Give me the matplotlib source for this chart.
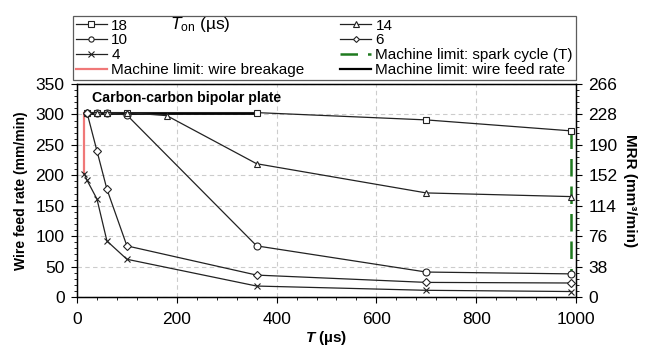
import matplotlib

matplotlib.use("Agg")

import matplotlib.pyplot as plt
from matplotlib.lines import Line2D
from matplotlib.ticker import MultipleLocator
import numpy as np

plt.rcParams["font.family"] = ["Liberation Sans", "DejaVu Sans"]
plt.rcParams["mathtext.fontset"] = "custom"
plt.rcParams["mathtext.rm"] = "Liberation Sans"
plt.rcParams["mathtext.it"] = "Liberation Sans:italic"
plt.rcParams["mathtext.bf"] = "Liberation Sans:italic:bold"

# pulse on-time series (T_on in us): cycle time T (us) vs wire feed rate (mm/min)
T_18 = [20, 40, 60, 100, 360, 700, 990]
WFR_18 = [303, 303, 303, 303, 303, 291, 273]
T_14 = [20, 40, 60, 100, 180, 360, 700, 990]
WFR_14 = [303, 303, 303, 303, 298, 219, 171, 165]
T_10 = [20, 40, 60, 100, 360, 700, 990]
WFR_10 = [303, 303, 303, 299, 84, 41, 38]
T_6 = [20, 40, 60, 100, 360, 700, 990]
WFR_6 = [303, 240, 177, 84, 36, 24, 23]
T_4 = [15, 20, 40, 60, 100, 360, 700, 990]
WFR_4 = [202, 192, 161, 92, 62, 18, 11, 9]

# machine limits
BREAKAGE_T = [15, 15]
BREAKAGE_WFR = [202, 303]
SPARK_T = [990, 990]
SPARK_WFR = [273, 38]
FEED_T = [20, 360]
FEED_WFR = [303, 303]

SERIES = [
    ("18", T_18, WFR_18, "s"),
    ("10", T_10, WFR_10, "o"),
    ("4", T_4, WFR_4, "x"),
    ("14", T_14, WFR_14, "^"),
    ("6", T_6, WFR_6, "D"),
]
MARKER_SIZE = {"s": 5, "o": 5, "x": 5, "^": 5, "D": 4}

RED = "#f07878"
GREEN = "#1f7a1f"

fig = plt.figure(figsize=(6.53, 3.47), dpi=100)
fig.patch.set_facecolor("white")
ax = fig.add_axes([77 / 653, 50 / 347, 499 / 653, 213 / 347])

ax.plot(BREAKAGE_T, BREAKAGE_WFR, color=RED, lw=1.6, zorder=2)
ax.plot(FEED_T, FEED_WFR, color="black", lw=2.0, zorder=2)
ax.plot(SPARK_T, SPARK_WFR, color=GREEN, lw=1.8, dashes=(7, 4), zorder=2)

handles = {}
for label, tx, wy, mk in SERIES:
    (line,) = ax.plot(
        tx, wy, color="#222222", lw=0.9, marker=mk, ms=MARKER_SIZE[mk],
        mfc="white", mec="#222222", mew=0.8, zorder=3,
    )
    handles[label] = line

ax.set_xlim(0, 1000)
ax.set_ylim(0, 350)
ax.xaxis.set_major_locator(MultipleLocator(200))
ax.xaxis.set_minor_locator(MultipleLocator(40))
ax.yaxis.set_major_locator(MultipleLocator(50))
ax.yaxis.set_minor_locator(MultipleLocator(10))
ax.grid(True, which="major", color="#cccccc", lw=0.8, dashes=(4, 3))
ax.set_axisbelow(True)
ax.tick_params(which="major", direction="out", length=4, width=0.8, labelsize=12.5)
ax.tick_params(axis="x", which="major", pad=7)
ax.tick_params(axis="y", which="major", pad=5)
ax.tick_params(which="minor", direction="out", length=2.5, width=0.6)
for spine in ax.spines.values():
    spine.set_linewidth(1.0)

ax.set_ylabel("Wire feed rate (mm/min)", fontsize=10, fontweight="bold", labelpad=5)
ax.set_xlabel(r"$\mathbf{T}$ (µs)", fontsize=11, fontweight="bold", labelpad=1)

ax2 = ax.twinx()
ax2.set_ylim(0, 266)
ax2.set_yticks(np.arange(0, 267, 38))
ax2.yaxis.set_minor_locator(MultipleLocator(7.6))
ax2.tick_params(which="major", direction="out", length=4, width=0.8, labelsize=12.5, pad=5)
ax2.tick_params(which="minor", direction="out", length=2.5, width=0.6)
ax2.set_ylabel("MRR (mm³/min)", fontsize=11, fontweight="bold", rotation=270, labelpad=14)

ax.text(30, 327, "Carbon-carbon bipolar plate", fontsize=10.2, fontweight="bold", va="center", ha="left")

legend_handles = [
    handles["18"], handles["10"], handles["4"],
    Line2D([], [], color=RED, lw=1.6),
    handles["14"], handles["6"],
    Line2D([], [], color=GREEN, lw=1.8, dashes=(7, 4)),
    Line2D([], [], color="black", lw=1.6),
]
legend_labels = [
    "18", "10", "4", "Machine limit: wire breakage",
    "14", "6", "Machine limit: spark cycle (T)", "Machine limit: wire feed rate",
]
leg = fig.legend(
    legend_handles, legend_labels, ncol=2, mode="expand",
    bbox_to_anchor=(73 / 653, 267 / 347, 503 / 653, 71 / 347), loc="lower left",
    fontsize=11, frameon=True, fancybox=False, edgecolor="#333333",
    borderpad=0.2, labelspacing=0.05, handlelength=2.0, handletextpad=0.3,
    markerscale=0.75, borderaxespad=0,
)
leg.get_frame().set_linewidth(0.9)

fig.text(170 / 653, (347 - 25) / 347, r"$\mathit{T}_{\mathrm{on}}$ (µs)", fontsize=12.5,
         va="center", ha="left", zorder=10)

fig.savefig("out.png", dpi=100, facecolor="white")
